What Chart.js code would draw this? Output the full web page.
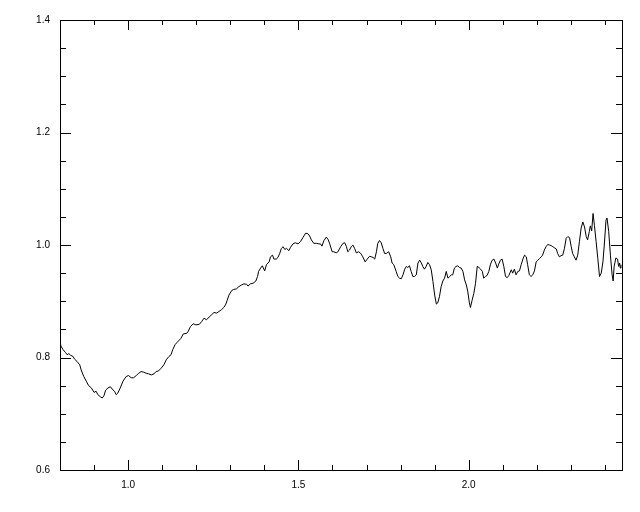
<!DOCTYPE html>
<html>
<head>
<meta charset="utf-8">
<script src="https://cdn.jsdelivr.net/npm/chart.js@4/dist/chart.umd.min.js"></script>
<style>
  html, body { margin: 0; padding: 0; background: #fff; }
  canvas { display: block; }
</style>
</head>
<body>
<canvas id="js-chart-spectrum" width="640" height="512"></canvas>
<script>
// values
const wavelength = [
    0.800, 0.802, 0.809, 0.816, 0.821, 0.826, 0.831, 0.838, 0.843, 0.850, 0.858, 0.862, 0.870, 0.877, 0.884, 0.892, 0.900, 0.906, 0.911, 0.919, 0.924, 0.929, 0.934, 0.941, 0.948, 0.953, 0.960, 0.965, 0.970, 0.977, 0.985, 0.994, 1.001, 1.009, 1.016, 1.024, 1.031, 1.038, 1.046, 1.053, 1.060, 1.068, 1.076, 1.082, 1.089, 1.097, 1.105, 1.112, 1.120, 1.126, 1.131, 1.138, 1.144,
    1.155, 1.162, 1.172, 1.176, 1.183, 1.191, 1.199, 1.209, 1.216, 1.223, 1.230, 1.238, 1.245, 1.252, 1.260, 1.267, 1.274, 1.281, 1.287, 1.291, 1.296, 1.304, 1.310, 1.318, 1.325, 1.333, 1.340, 1.348, 1.352, 1.359, 1.367, 1.375, 1.380, 1.383, 1.389, 1.394, 1.401, 1.406, 1.414, 1.418, 1.424, 1.428, 1.435, 1.440, 1.445, 1.450, 1.455, 1.460,
    1.465, 1.472, 1.477, 1.484, 1.491, 1.499, 1.506, 1.514, 1.521, 1.528, 1.533, 1.538, 1.545, 1.553, 1.560, 1.565, 1.569, 1.575, 1.582, 1.587, 1.592, 1.599, 1.604, 1.611, 1.616, 1.624, 1.631, 1.636, 1.641, 1.645, 1.650, 1.655, 1.660, 1.665, 1.670, 1.677, 1.683, 1.689, 1.696, 1.702, 1.709, 1.714, 1.719, 1.724, 1.729, 1.733, 1.738, 1.743, 1.748, 1.753, 1.758, 1.765, 1.771, 1.775, 1.780,
    1.787, 1.792, 1.797, 1.802, 1.807, 1.812, 1.817, 1.821, 1.826, 1.831, 1.836, 1.841, 1.846, 1.851, 1.856, 1.861, 1.865, 1.870, 1.875, 1.880, 1.885, 1.890, 1.895, 1.900, 1.905, 1.909, 1.914, 1.919, 1.924, 1.929, 1.934, 1.939, 1.944, 1.949, 1.953, 1.958, 1.963, 1.968, 1.973, 1.978, 1.983, 1.988, 1.993, 1.997, 2.002, 2.005, 2.010, 2.015, 2.020, 2.025, 2.030, 2.035, 2.040, 2.044, 2.049, 2.054, 2.059, 2.064, 2.069, 2.074, 2.079, 2.084, 2.088, 2.093, 2.098, 2.103, 2.108, 2.113, 2.118,
    2.125, 2.129, 2.134, 2.139, 2.144, 2.149, 2.154, 2.159, 2.164, 2.169, 2.173, 2.178, 2.183, 2.188, 2.193, 2.198, 2.203, 2.208, 2.213, 2.217, 2.222, 2.227, 2.232, 2.237, 2.242, 2.247, 2.252, 2.257, 2.261, 2.266, 2.271, 2.276, 2.281, 2.286, 2.291, 2.296, 2.301, 2.305, 2.310, 2.315, 2.320, 2.325, 2.330, 2.335, 2.340, 2.345, 2.349, 2.354, 2.357, 2.361, 2.365, 2.369, 2.374, 2.379, 2.384, 2.389, 2.394, 2.398, 2.403, 2.406, 2.411, 2.416, 2.421, 2.424, 2.427, 2.432, 2.437, 2.440, 2.443, 2.445, 2.447
];
const flux = [
    0.823, 0.821, 0.814, 0.809, 0.805, 0.807, 0.804, 0.802, 0.797, 0.793, 0.787, 0.778, 0.766, 0.758, 0.750, 0.746, 0.738, 0.740, 0.734, 0.730, 0.728, 0.732, 0.742, 0.746, 0.748, 0.744, 0.740, 0.734, 0.737, 0.746, 0.758, 0.766, 0.768, 0.764, 0.764, 0.768, 0.772, 0.775, 0.774, 0.772, 0.771, 0.769, 0.771, 0.775, 0.776, 0.781, 0.787, 0.796, 0.802, 0.805, 0.814, 0.823, 0.827,
    0.834, 0.842, 0.843, 0.846, 0.855, 0.860, 0.858, 0.859, 0.864, 0.870, 0.867, 0.872, 0.876, 0.880, 0.879, 0.882, 0.885, 0.889, 0.895, 0.902, 0.911, 0.919, 0.921, 0.922, 0.926, 0.929, 0.931, 0.930, 0.927, 0.931, 0.932, 0.936, 0.944, 0.953, 0.959, 0.963, 0.954, 0.965, 0.970, 0.979, 0.982, 0.975, 0.975, 0.978, 0.985, 0.994, 0.997, 0.992,
    0.994, 0.990, 0.996, 1.002, 1.004, 1.002, 1.006, 1.014, 1.021, 1.020, 1.016, 1.009, 1.003, 1.003, 1.002, 1.002, 0.998, 1.008, 1.014, 1.010, 1.002, 0.988, 0.988, 0.986, 0.988, 0.997, 1.003, 1.004, 0.997, 0.988, 0.991, 0.997, 1.000, 0.994, 0.986, 0.988, 0.985, 0.979, 0.970, 0.975, 0.980, 0.979, 0.978, 0.975, 0.988, 1.003, 1.008, 1.004, 0.994, 0.985, 0.985, 0.988, 0.979, 0.968, 0.965,
    0.953, 0.944, 0.941, 0.940, 0.947, 0.957, 0.962, 0.960, 0.963, 0.953, 0.944, 0.944, 0.947, 0.968, 0.973, 0.968, 0.962, 0.957, 0.962, 0.969, 0.965, 0.956, 0.935, 0.911, 0.895, 0.897, 0.908, 0.926, 0.936, 0.941, 0.953, 0.941, 0.944, 0.947, 0.947, 0.959, 0.962, 0.963, 0.960, 0.959, 0.953, 0.938, 0.929, 0.918, 0.897, 0.889, 0.902, 0.914, 0.932, 0.962, 0.960, 0.957, 0.953, 0.941, 0.944, 0.946, 0.953, 0.966, 0.973, 0.975, 0.968, 0.959, 0.966, 0.973, 0.975, 0.962, 0.944, 0.942, 0.946,
    0.956, 0.950, 0.957, 0.947, 0.953, 0.954, 0.965, 0.975, 0.982, 0.979, 0.965, 0.947, 0.944, 0.947, 0.954, 0.970, 0.973, 0.976, 0.979, 0.982, 0.991, 0.997, 1.001, 1.000, 0.999, 0.997, 0.995, 0.993, 0.985, 0.979, 0.981, 0.982, 0.994, 1.012, 1.015, 1.013, 0.997, 0.985, 0.979, 0.973, 0.982, 1.006, 1.030, 1.041, 1.032, 1.015, 1.009, 1.024, 1.034, 1.025, 1.056, 1.035, 1.006, 0.976, 0.944, 0.950, 0.970, 1.000, 1.044, 1.048, 1.024, 0.982, 0.947, 0.936, 0.962, 0.977, 0.975, 0.962, 0.968, 0.959, 0.965
];
const xLabelTicks = [1.0, 1.5, 2.0];
const yLabelTicks = [0.6, 0.8, 1.0, 1.2, 1.4];

const isLabelTick = (v, list) => list.some(t => Math.abs(t - v) < 1e-6);

// IDL-style inward ticks on all four sides plus the box
const frameTicks = {
    id: "frameTicks",
    afterDraw(chart) {
        const { ctx, chartArea: a, scales } = chart;
        ctx.save();
        ctx.strokeStyle = "#000";
        ctx.lineWidth = 1;
        ctx.strokeRect(a.left + 0.5, a.top + 0.5, a.right - a.left, a.bottom - a.top);
        ctx.beginPath();
        scales.x.ticks.forEach(t => {
            const px = Math.round(scales.x.getPixelForValue(t.value)) + 0.5;
            const len = isLabelTick(t.value, xLabelTicks) ? 10 : 5;
            ctx.moveTo(px, a.bottom); ctx.lineTo(px, a.bottom - len);
            ctx.moveTo(px, a.top); ctx.lineTo(px, a.top + len);
        });
        scales.y.ticks.forEach(t => {
            const py = Math.round(scales.y.getPixelForValue(t.value)) + 0.5;
            const len = isLabelTick(t.value, yLabelTicks) ? 11 : 6;
            ctx.moveTo(a.left, py); ctx.lineTo(a.left + len, py);
            ctx.moveTo(a.right, py); ctx.lineTo(a.right - len, py);
        });
        ctx.stroke();
        ctx.restore();
    },
};

const el = document.getElementById("js-chart-spectrum");
new Chart(el, {
    type: "line",
    data: {
        datasets: [
            {
                label: "flux",
                data: wavelength.map((w, i) => ({ x: w, y: flux[i] })),
                borderColor: "#000",
                borderWidth: 1,
                pointRadius: 0,
                tension: 0,
                fill: false,
            },
        ],
    },
    options: {
        responsive: false,
        animation: false,
        layout: { padding: { top: 20, right: 18, left: 0, bottom: 0 } },
        scales: {
            x: {
                type: "linear",
                min: 0.8,
                max: 2.45,
                grid: { display: false, drawTicks: false },
                border: { display: false },
                ticks: {
                    stepSize: 0.1,
                    autoSkip: false,
                    includeBounds: false,
                    maxRotation: 0,
                    padding: 9,
                    color: "#000",
                    font: { family: "'Liberation Sans', Arial, sans-serif", size: 10 },
                    callback: v => (isLabelTick(v, xLabelTicks) ? v.toFixed(1) : ""),
                },
                afterFit: s => { s.height = 42; },
            },
            y: {
                min: 0.6,
                max: 1.4,
                grid: { display: false, drawTicks: false },
                border: { display: false },
                ticks: {
                    stepSize: 0.05,
                    autoSkip: false,
                    padding: 10,
                    color: "#000",
                    font: { family: "'Liberation Sans', Arial, sans-serif", size: 10 },
                    callback: v => (isLabelTick(v, yLabelTicks) ? v.toFixed(1) : ""),
                },
                afterFit: s => { s.width = 60; },
            },
        },
        plugins: { legend: { display: false }, tooltip: { enabled: false } },
    },
    plugins: [frameTicks],
});
</script>
</body>
</html>
